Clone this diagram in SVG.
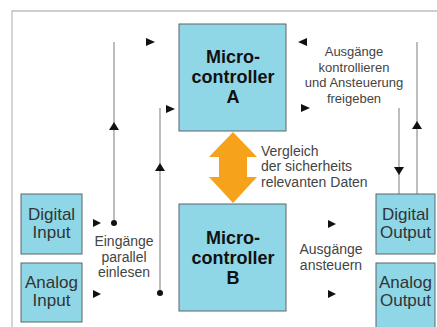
<svg xmlns="http://www.w3.org/2000/svg" width="437" height="327" viewBox="0 0 437 327">
<defs>
<style>
.box{fill:#8fd7e7;stroke:#5a6468;stroke-width:1}
.big{font-family:"Liberation Sans",Arial,sans-serif;font-weight:bold;font-size:18px;fill:#111;text-anchor:middle}
.io{font-family:"Liberation Sans",Arial,sans-serif;font-size:17px;fill:#333;text-anchor:middle}
.lbl{font-family:"Liberation Sans",Arial,sans-serif;font-size:13px;fill:#444}
.lbl2{font-family:"Liberation Sans",Arial,sans-serif;font-size:14px;fill:#444}
.ln{stroke:#9a9a9a;stroke-width:1.3;fill:none}
.ah{fill:#111}
</style>
</defs>
<rect width="437" height="327" fill="#fff"/>
<path d="M12 327 V11 H437" fill="none" stroke="#b9c1c1" stroke-width="1.3"/>

<g id="connectors">
<line class="ln" x1="114" y1="42" x2="114" y2="223"/>
<line class="ln" x1="160" y1="108" x2="160" y2="293"/>
<line class="ln" x1="417" y1="42" x2="417" y2="194"/>
<line class="ln" x1="399" y1="108" x2="399" y2="194"/>
<circle class="ah" cx="114" cy="223" r="3"/>
<circle class="ah" cx="160" cy="293" r="3"/>
<polygon class="ah" points="109,130 119,130 114,122"/>
<polygon class="ah" points="155,171 165,171 160,163"/>
<polygon class="ah" points="412,129 422,129 417,121"/>
<polygon class="ah" points="394,167 404,167 399,175"/>
<polygon class="ah" points="146,38 155,42 146,46"/>
<polygon class="ah" points="166,105 175,109 166,113"/>
<polygon class="ah" points="307,38 298,42 307,46"/>
<polygon class="ah" points="301,104 310,108 301,112"/>
<polygon class="ah" points="93,219 101,223 93,227"/>
<polygon class="ah" points="93,290 101,294 93,298"/>
<polygon class="ah" points="328,220 336,224 328,228"/>
<polygon class="ah" points="328,290 336,294 328,298"/>
<polygon fill="#f7a21b" points="233,132 257,157 247,157 247,177 257,177 233,203 209,177 219,177 219,157 209,157"/>
</g>

<g id="mcA">
<rect class="box" x="179" y="24" width="107" height="107"/>
<text class="big" x="233" y="63">Micro-</text>
<text class="big" x="233" y="83">controller</text>
<text class="big" x="233" y="103">A</text>
</g>
<g id="mcB">
<rect class="box" x="179" y="204" width="107" height="107"/>
<text class="big" x="233" y="244">Micro-</text>
<text class="big" x="233" y="264">controller</text>
<text class="big" x="233" y="284">B</text>
</g>
<g id="digitalInput">
<rect class="box" x="21" y="194" width="61" height="60"/>
<text class="io" x="51.5" y="220">Digital</text>
<text class="io" x="51.5" y="238">Input</text>
</g>
<g id="analogInput">
<rect class="box" x="21" y="263" width="61" height="59"/>
<text class="io" x="51.5" y="288">Analog</text>
<text class="io" x="51.5" y="306">Input</text>
</g>
<g id="digitalOutput">
<rect class="box" x="376" y="194" width="59" height="60"/>
<text class="io" x="405.5" y="220">Digital</text>
<text class="io" x="405.5" y="238">Output</text>
</g>
<g id="analogOutput">
<rect class="box" x="376" y="263" width="59" height="70"/>
<text class="io" x="405.5" y="288">Analog</text>
<text class="io" x="405.5" y="306">Output</text>
</g>

<g id="labels">
<text class="lbl" text-anchor="middle" x="354" y="56">Ausgänge</text>
<text class="lbl" text-anchor="middle" x="354" y="72">kontrollieren</text>
<text class="lbl" text-anchor="middle" x="354" y="87">und Ansteuerung</text>
<text class="lbl" text-anchor="middle" x="354" y="103">freigeben</text>
<text class="lbl2" x="261" y="156">Vergleich</text>
<text class="lbl2" x="261" y="171">der sicherheits</text>
<text class="lbl2" x="261" y="187">relevanten Daten</text>
<text class="lbl2" text-anchor="middle" x="124" y="246">Eingänge</text>
<text class="lbl2" text-anchor="middle" x="124" y="262">parallel</text>
<text class="lbl2" text-anchor="middle" x="124" y="277">einlesen</text>
<text class="lbl2" text-anchor="middle" x="331" y="254">Ausgänge</text>
<text class="lbl2" text-anchor="middle" x="331" y="270">ansteuern</text>
</g>
</svg>
